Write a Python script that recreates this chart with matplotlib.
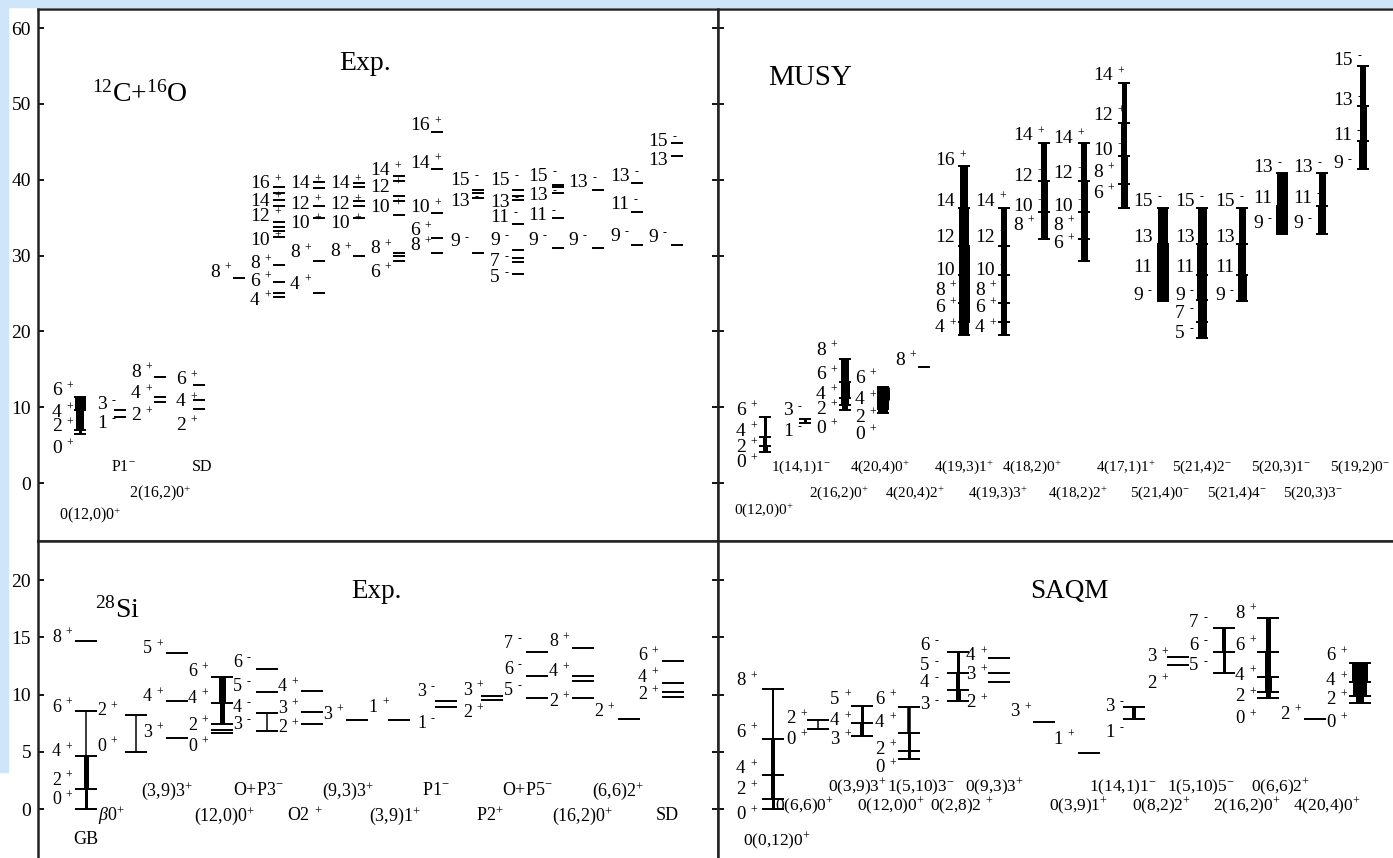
import matplotlib
matplotlib.use("Agg")
import matplotlib.pyplot as plt
from matplotlib.patches import Rectangle

plt.rcParams['font.family'] = ['Liberation Serif', 'DejaVu Serif']
plt.rcParams['mathtext.fontset'] = 'custom'
plt.rcParams['mathtext.rm'] = 'Liberation Serif'
plt.rcParams['mathtext.it'] = 'Liberation Serif:italic'
plt.rcParams['mathtext.bf'] = 'Liberation Serif:bold'

#%% data -- 12C+16O experiment (top left)
tl_E = [[6.5, 7.0, 9.6, 11.3], [8.7, 9.6], [10.7, 11.3, 14.0], [9.7, 10.9, 12.9],
        [27.0],
        [24.5, 25.1, 26.5, 28.7, 32.4, 33.2, 33.8, 34.4, 36.6, 37.3, 38.3, 39.0],
        [25.1, 29.3, 35.0, 36.6, 38.9, 39.7],
        [30.0, 35.0, 36.5, 37.2, 39.0, 39.6],
        [29.3, 29.9, 30.3, 35.3, 37.2, 37.9, 39.9, 40.5],
        [30.4, 32.3, 35.6, 41.4, 46.3],
        [30.4, 37.6, 38.2, 38.6],
        [27.6, 29.1, 29.7, 30.8, 34.2, 37.4, 37.9, 38.7],
        [31.0, 34.9, 38.3, 39.0, 39.3],
        [31.0, 38.7],
        [31.4, 35.8, 39.6],
        [31.4, 43.2, 44.9]]
tl_J = [['0', '2', '4', '6'], ['1', '3'], ['2', '4', '8'], ['2', '4', '6'],
        ['8'],
        ['4', '6', '8', '10', '12', '14', '16'],
        ['4', '8', '10', '12', '14'],
        ['8', '10', '12', '14'],
        ['6', '8', '10', '12', '14'],
        ['8', '6', '10', '14', '16'],
        ['9', '13', '15'],
        ['5', '7', '9', '11', '13', '15'],
        ['9', '11', '13', '15'],
        ['9', '13'],
        ['9', '11', '13'],
        ['9', '13', '15']]
tl_P = ['+', '-', '+', '+', '+', '+', '+', '+', '+', '+', '-', '-', '-', '-', '-', '-']
tl_w = [[3, 8, 11], None, None, None] + [None] * 12
tl_names = ["0(12,0)0$^{+}$", "P1$^{-}$", "2(16,2)0$^{+}$", "SD"]

#%% data -- MUSY (top right)
tr_E = [[4.1, 4.9, 6.1, 8.7], [7.9, 8.5], [9.6, 10.3, 11.2, 13.3, 16.4],
        [9.2, 9.8, 10.9, 12.6], [15.3],
        [19.5, 21.3, 23.8, 27.4, 31.3, 36.3, 41.8],
        [19.5, 21.3, 23.8, 27.4, 31.3, 36.3],
        [32.2, 35.7, 39.9, 44.9],
        [29.3, 32.2, 35.7, 39.9, 44.9],
        [36.3, 39.5, 43.2, 47.5, 52.8],
        [24.0, 27.5, 31.5, 36.3],
        [19.1, 21.2, 24.1, 27.5, 31.5, 36.3],
        [24.0, 27.5, 31.5, 36.3],
        [32.9, 36.6, 40.9],
        [32.9, 36.6, 40.9],
        [41.4, 45.1, 49.7, 55.0]]
tr_J = [['0', '2', '4', '6'], ['1', '3'], ['0', '2', '4', '6', '8'],
        ['0', '2', '4', '6'], ['8'],
        ['4', '6', '8', '10', '12', '14', '16'],
        ['4', '6', '8', '10', '12', '14'],
        ['8', '10', '12', '14'],
        ['6', '8', '10', '12', '14'],
        ['6', '8', '10', '12', '14'],
        ['9', '11', '13', '15'],
        ['5', '7', '9', '11', '13', '15'],
        ['9', '11', '13', '15'],
        ['9', '11', '13'],
        ['9', '11', '13'],
        ['9', '11', '13', '15']]
tr_P = ['+', '-', '+', '+', '+', '+', '+', '+', '+', '+', '-', '-', '-', '-', '-', '-']
tr_w = [[5, 4, 3], [3], [6, 8, 9, 8], [10, 12, 13], None,
        [10, 11, 11, 11, 10, 8], [6, 6, 6, 6, 6], [7, 7, 6], [7, 7, 7, 6],
        [7, 7, 6, 5], [12, 12, 10], [9, 9, 10, 10, 9], [9, 8, 7],
        [12, 11], [8, 7], [8, 7, 6]]
tr_names = ["0(12,0)0$^{+}$", "1(14,1)1$^{-}$", "2(16,2)0$^{+}$", "4(20,4)0$^{+}$",
            "4(20,4)2$^{+}$", "4(19,3)1$^{+}$", "4(19,3)3$^{+}$", "4(18,2)0$^{+}$",
            "4(18,2)2$^{+}$", "4(17,1)1$^{+}$", "5(21,4)0$^{-}$", "5(21,4)2$^{-}$",
            "5(21,4)4$^{-}$", "5(20,3)1$^{-}$", "5(20,3)3$^{-}$", "5(19,2)0$^{-}$"]

#%% data -- 28Si experiment (bottom left)
bl_E = [[0.0, 1.78, 4.62, 8.54, 14.7], [4.98, 8.26], [6.2, 9.4, 13.6],
        [6.6, 6.9, 7.4, 9.3, 11.5], [6.8, 8.4, 10.2, 12.2], [7.4, 8.5, 10.3],
        [7.8], [7.8], [8.9, 9.4], [9.5, 9.9], [9.7, 11.6, 13.7],
        [9.7, 11.2, 11.6, 14.1], [7.9], [9.8, 10.2, 11.0, 12.9]]
bl_J = [['0', '2', '4', '6', '8'], ['0', '2'], ['3', '4', '5'], ['0', '2', '4', '6'],
        ['3', '4', '5', '6'], ['2', '3', '4'], ['3'], ['1'], ['1', '3'], ['2', '3'],
        ['5', '6', '7'], ['2', '4', '8'], ['2'], ['2', '4', '6']]
bl_P = ['+', '+', '+', '+', '-', '+', '+', '+', '-', '+', '-', '+', '+', '+']
bl_w = [[3, 5, 1.5, 0], [1.5], None, [0, 0, 5, 7], [1.5, 0, 0], None,
        None, None, None, None, None, None, None, None]
bl_names = ["GB", "$\\beta$0$^{+}$", "(3,9)3$^{+}$", "(12,0)0$^{+}$", "O+P3$^{-}$",
            "O2$^{\\ +}$", "(9,3)3$^{+}$", "(3,9)1$^{+}$", "P1$^{-}$", "P2$^{+}$",
            "O+P5$^{-}$", "(16,2)0$^{+}$", "(6,6)2$^{+}$", "SD"]

#%% data -- SAQM (bottom right)
br_E = [[0.0, 0.9, 3.0, 6.1, 10.5], [7.0, 7.8], [6.4, 7.5, 9.0], [4.4, 5.1, 6.6, 8.9],
        [9.4, 10.4, 11.9, 13.7], [11.1, 11.9, 13.2], [7.6], [4.9], [7.9, 8.9],
        [12.6, 13.3], [11.9, 13.7, 15.8], [9.7, 10.2, 11.5, 13.7, 16.7], [7.9],
        [9.3, 9.9, 11.1, 12.8]]
br_J = [['0', '2', '4', '6', '8'], ['0', '2'], ['3', '4', '5'], ['0', '2', '4', '6'],
        ['3', '4', '5', '6'], ['2', '3', '4'], ['3'], ['1'], ['1', '3'], ['2', '3'],
        ['5', '6', '7'], ['0', '2', '4', '6', '8'], ['2'], ['0', '2', '4', '6']]
br_P = ['+', '+', '+', '+', '-', '+', '+', '+', '-', '+', '-', '+', '+', '+']
br_w = [[3, 4, 4, 2], [1.5], [4, 3], [3, 3, 3.5], [5, 4, 3], None, None, None, [4],
        None, [3, 4], [5, 7, 6, 5], None, [8, 14, 16]]
br_names = ["0(0,12)0$^{+}$", "0(6,6)0$^{+}$", "0(3,9)3$^{+}$", "0(12,0)0$^{+}$",
            "1(5,10)3$^{-}$", "0(2,8)2$^{\\ +}$", "0(9,3)3$^{+}$", "0(3,9)1$^{+}$",
            "1(14,1)1$^{-}$", "0(8,2)2$^{+}$", "1(5,10)5$^{-}$", "2(16,2)0$^{+}$",
            "0(6,6)2$^{+}$", "4(20,4)0$^{+}$"]

#%% layout (pixel columns of the bands, label heights)
tl_x = [80, 120, 160, 199, 239, 279, 319, 359, 399, 437, 478, 518, 558, 598, 637, 677]
tl_lx = [52, 97, 131, 176, 210, 250, 290, 330, 370, 410, 450, 490, 528, 568, 610, 648]
tl_ly = [[4.6, 7.4, 9.3, 12.2], [7.9, 10.3], [8.9, 11.8, 14.6], [7.6, 10.7, 13.6],
         [27.8], [24.1, 26.6, 28.9, 32.0, 35.1, 37.2, 39.5],
         [26.2, 30.4, 34.3, 36.8, 39.5], [30.5, 34.3, 36.8, 39.5],
         [27.8, 30.9, 36.3, 39.0, 41.2], [31.3, 33.3, 36.3, 42.2, 47.1],
         [31.8, 37.1, 39.9], [27.1, 29.2, 32.0, 35.0, 37.0, 39.9],
         [32.0, 35.3, 37.9, 40.4], [32.0, 39.6], [32.5, 36.8, 40.4], [32.4, 42.5, 45.1]]
tl_nxy = [(90, -4.2), (123, 2.1), (160, -1.3), (202, 2.1)]

tr_x = [765, 805, 845, 883, 924, 964, 1004, 1044, 1084, 1124, 1163, 1202, 1242, 1282, 1322, 1363]
tr_lx = [736, 783, 816, 855, 895, 935, 975, 1013, 1053, 1093, 1133, 1175, 1215, 1253, 1293, 1333]
tr_ly = [[2.7, 4.7, 6.8, 9.6], [6.8, 9.5], [7.2, 9.7, 11.7, 14.3, 17.5],
         [6.4, 8.7, 11.0, 13.8], [16.2], [20.5, 23.2, 25.4, 28.0, 32.4, 37.2, 42.6],
         [20.5, 23.2, 25.4, 28.0, 32.4, 37.2], [34.0, 36.5, 40.5, 45.8],
         [31.6, 34.0, 36.5, 40.8, 45.5], [38.2, 41.0, 43.9, 48.5, 53.7],
         [24.8, 28.4, 32.4, 37.2], [19.7, 22.4, 24.8, 28.4, 32.4, 37.2],
         [24.8, 28.4, 32.4, 37.2], [34.3, 37.5, 41.6], [34.3, 37.5, 41.6],
         [42.1, 45.8, 50.4, 55.7]]
tr_nxy = [(764, -3.6), (801, 2.1), (839, -1.3), (880, 2.1), (915, -1.3), (964, 2.1),
          (998, -1.3), (1032, 2.1), (1078, -1.3), (1126, 2.1), (1160, -1.3),
          (1202, 2.1), (1237, -1.3), (1281, 2.1), (1313, -1.3), (1360, 2.1)]

bl_x = [86, 136, 177, 222, 267, 312, 357, 399, 446, 492, 537, 583, 629, 673]
bl_lx = [52, 97, 143, 188, 233, 278, 323, 368, 417, 463, 504, 549, 594, 638]
bl_ly = [[0.8, 2.5, 5.0, 8.9, 15.0], [5.5, 8.6], [6.7, 9.8, 14.0], [5.5, 7.3, 9.7, 12.0],
         [7.4, 8.9, 10.7, 12.8], [7.1, 8.8, 10.7], [8.3], [8.9], [7.5, 10.3],
         [8.4, 10.4], [10.4, 12.2, 14.5], [9.4, 12.0, 14.6], [8.5], [10.0, 11.5, 13.4]]
bl_nxy = [(86, -2.7), (111, -0.6), (167, 1.6), (225, -0.6), (258, 1.6), (305, -0.6),
          (348, 1.6), (395, -0.6), (436, 1.6), (490, -0.6), (527, 1.6), (583, -0.6),
          (618, 1.6), (667, -0.6)]

br_x = [773, 818, 862, 909, 958, 999, 1044, 1089, 1134, 1178, 1224, 1268, 1315, 1360]
br_lx = [736, 786, 830, 875, 920, 966, 1010, 1053, 1105, 1147, 1189, 1235, 1280, 1326]
br_ly = [[-0.5, 1.7, 3.5, 6.7, 11.2], [6.1, 7.9], [6.1, 7.7, 9.6], [3.6, 5.2, 7.6, 9.6],
         [9.1, 11.1, 12.5, 14.3], [9.3, 11.8, 13.4], [8.5], [6.1], [6.7, 9.0],
         [11.0, 13.3], [12.5, 14.3, 16.3], [7.9, 9.8, 11.7, 14.3, 17.1], [8.3],
         [7.6, 9.6, 11.2, 13.4]]
br_nxy = [(777, -2.8), (805, 0.2), (858, 1.9), (891, 0.2), (921, 1.9), (962, 0.2),
          (995, 1.9), (1079, 0.2), (1123, 1.9), (1162, 0.2), (1201, 1.9), (1247, 0.2),
          (1281, 1.9), (1327, 0.2)]

#%% figure
W, H = 1393, 858
fig = plt.figure(figsize=(W / 100, H / 100), dpi=100, facecolor='white')
fig.patches.append(Rectangle((0, 1 - 772 / H), 8 / W, 772 / H, transform=fig.transFigure,
                             color='#cfe5fa', zorder=0))
fig.patches.append(Rectangle((0, 1 - 7 / H), 1, 7 / H, transform=fig.transFigure,
                             color='#cfe5fa', zorder=0))


def make_ax(x0, x1, y0, y1, ylim):
    ax = fig.add_axes([x0 / W, 1 - y1 / H, (x1 - x0) / W, (y1 - y0) / H])
    ax.set_xlim(x0, x1)
    ax.set_ylim(*ylim)
    ax.set_xticks([])
    for s in ax.spines.values():
        s.set_linewidth(1.8)
        s.set_color('#222222')
    return ax


top_lim = ((483 - 541) / 7.58, (483 - 9) / 7.58)
bot_lim = ((809 - 872) / 11.44, (809 - 541) / 11.44)
ax_tl = make_ax(38, 718, 9, 541, top_lim)
ax_tr = make_ax(718, 1402, 9, 541, top_lim)
ax_bl = make_ax(38, 718, 541, 872, bot_lim)
ax_br = make_ax(718, 1402, 541, 872, bot_lim)

for ax, ticks in [(ax_tl, range(0, 61, 10)), (ax_bl, range(0, 21, 5))]:
    ax.set_yticks(list(ticks))
    ax.tick_params(axis='y', direction='in', length=4, width=1.3, labelsize=14,
                   pad=5, left=True, right=True)
for ax, ticks in [(ax_tr, range(0, 61, 10)), (ax_br, range(0, 21, 5))]:
    ax.set_yticks(list(ticks))
    ax.tick_params(axis='y', direction='in', length=4, width=1.3, labelleft=False)


def spin(ax, x, y, j, p, fs, pfs):
    t = ax.text(x, y, j, ha='left', va='center', fontsize=fs)
    ax.annotate(p, xy=(1, 1), xycoords=t, xytext=(3.5, -3), textcoords='offset points',
                ha='left', va='center', fontsize=pfs)


def draw_bands(ax, xs, lxs, E, J, LY, P, widths, half, fs, pfs):
    for i in range(len(xs)):
        x = xs[i]
        ax.hlines(E[i], x - half, x + half, color='k', lw=1.4)
        if widths[i]:
            for k, w in enumerate(widths[i]):
                if w > 0:
                    ax.plot([x, x], [E[i][k], E[i][k + 1]], color='k', lw=w * 0.72,
                            solid_capstyle='butt')
        for j, y in zip(J[i], LY[i]):
            spin(ax, lxs[i], y, j, P[i], fs, pfs)


def draw_names(ax, names, xy, fs):
    for n, (x, y) in zip(names, xy):
        ax.text(x, y, n, ha='center', va='center', fontsize=fs)


# top left
draw_bands(ax_tl, tl_x, tl_lx, tl_E, tl_J, tl_ly, tl_P, tl_w, 6, 14, 8.5)
draw_names(ax_tl, tl_names, tl_nxy, 11.5)
ax_tl.text(92, 51.3, "$^{12}$C+$^{16}$O", ha='left', va='center', fontsize=20)
ax_tl.text(365, 55.4, "Exp.", ha='center', va='center', fontsize=20)

# top right
draw_bands(ax_tr, tr_x, tr_lx, tr_E, tr_J, tr_ly, tr_P, tr_w, 6, 14, 8.5)
draw_names(ax_tr, tr_names, tr_nxy, 11)
ax_tr.text(768, 53.4, "MUSY", ha='left', va='center', fontsize=21)

# bottom left
draw_bands(ax_bl, bl_x, bl_lx, bl_E, bl_J, bl_ly, bl_P, bl_w, 11, 13, 8.5)
draw_names(ax_bl, bl_names, bl_nxy, 13)
ax_bl.text(95, 17.4, "$^{28}$Si", ha='left', va='center', fontsize=20)
ax_bl.text(376, 19.0, "Exp.", ha='center', va='center', fontsize=19.5)

# bottom right
draw_bands(ax_br, br_x, br_lx, br_E, br_J, br_ly, br_P, br_w, 11, 13.5, 8.5)
draw_names(ax_br, br_names, br_nxy, 12.5)
ax_br.text(1069, 19.0, "SAQM", ha='center', va='center', fontsize=19.5)

fig.savefig("out.png", dpi=100, facecolor=fig.get_facecolor())
